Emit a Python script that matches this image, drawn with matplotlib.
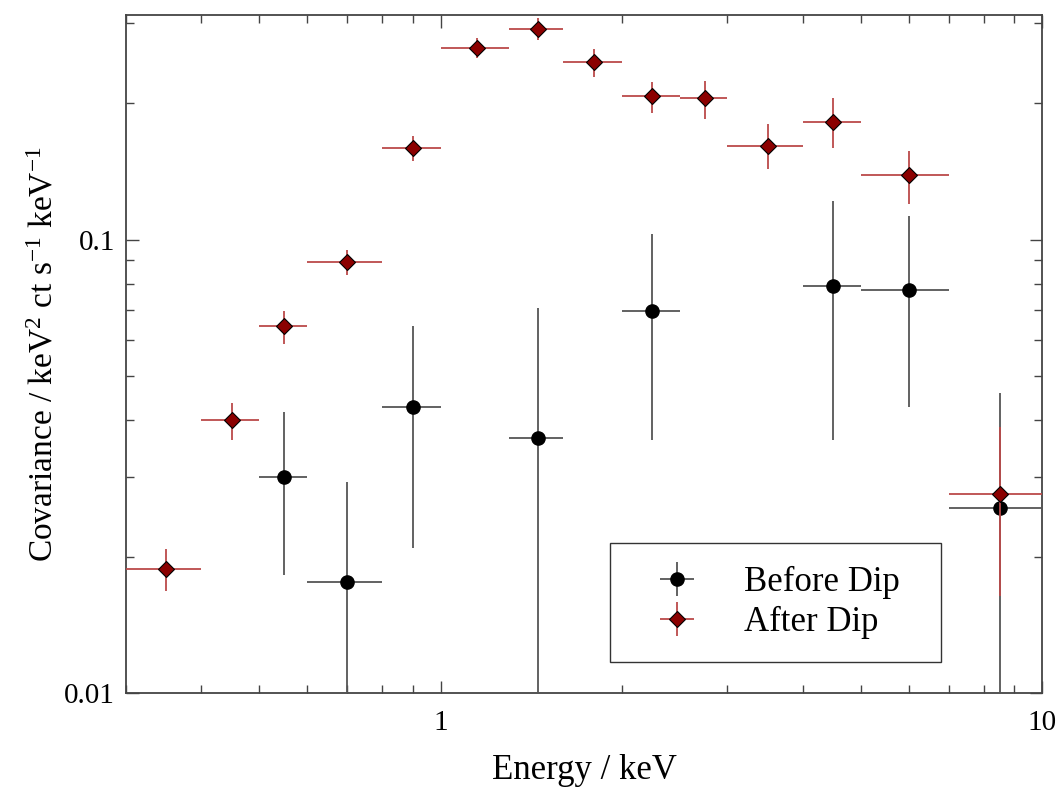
import numpy as np
import matplotlib
matplotlib.use("Agg")
import matplotlib.pyplot as plt
from matplotlib.ticker import FuncFormatter, LogLocator, NullFormatter

plt.rcParams['font.family'] = ['Liberation Serif', 'DejaVu Serif']
plt.rcParams['mathtext.fontset'] = 'custom'
plt.rcParams['mathtext.rm'] = 'Liberation Serif'
plt.rcParams['mathtext.it'] = 'Liberation Serif:italic'

# energy bins (keV)
after_lo = [0.3, 0.4, 0.5, 0.6, 0.8, 1.0, 1.3, 1.6, 2.0, 2.5, 3.0, 4.0, 5.0, 7.0]
after_hi = [0.4, 0.5, 0.6, 0.8, 1.0, 1.3, 1.6, 2.0, 2.5, 3.0, 4.0, 5.0, 7.0, 10.0]
after_y = [0.0188, 0.0400, 0.0644, 0.0891, 0.159, 0.265, 0.292, 0.246, 0.207, 0.205, 0.161, 0.182, 0.139, 0.0275]
after_ylo = [0.0168, 0.0361, 0.0590, 0.0834, 0.149, 0.252, 0.275, 0.228, 0.190, 0.185, 0.143, 0.159, 0.120, 0.0164]
after_yhi = [0.0208, 0.0436, 0.0695, 0.0947, 0.169, 0.279, 0.309, 0.264, 0.223, 0.224, 0.180, 0.205, 0.157, 0.0386]

before_lo = [0.5, 0.6, 0.8, 1.3, 2.0, 4.0, 5.0, 7.0]
before_hi = [0.6, 0.8, 1.0, 1.6, 2.5, 5.0, 7.0, 10.0]
before_y = [0.0300, 0.0176, 0.0427, 0.0365, 0.0695, 0.0789, 0.0773, 0.0256]
before_ylo = [0.0182, 0.005, 0.0209, 0.005, 0.0361, 0.0361, 0.0427, 0.005]
before_yhi = [0.0416, 0.0292, 0.0644, 0.0706, 0.1027, 0.122, 0.1126, 0.046]


def to_err(lo, hi, y, ylo, yhi):
    lo, hi, y = np.array(lo), np.array(hi), np.array(y)
    x = (lo + hi) / 2
    xerr = (hi - lo) / 2
    yerr = [y - np.array(ylo), np.array(yhi) - y]
    return x, xerr, yerr


fig = plt.figure(figsize=(10.61, 7.87), dpi=100)
ax = fig.add_axes([126 / 1061, 1 - 693 / 787, 916 / 1061, 678 / 787])

x, xerr, yerr = to_err(before_lo, before_hi, before_y, before_ylo, before_yhi)
ax.errorbar(x, before_y, xerr=xerr, yerr=yerr, fmt='o', color='black', ms=9.5,
            ecolor='#555555', elinewidth=1.3, capsize=0, label='Before Dip', zorder=3)

x, xerr, yerr = to_err(after_lo, after_hi, after_y, after_ylo, after_yhi)
ax.errorbar(x, after_y, xerr=xerr, yerr=yerr, fmt='D', mfc='#8b0000', mec='black',
            mew=0.8, ms=8, ecolor='#bb4a4a', elinewidth=1.3, capsize=0,
            label='After Dip', zorder=4)

ax.set_xscale('log')
ax.set_yscale('log')
ax.set_xlim(0.3, 10)
ax.set_ylim(0.01, 0.313)

fmt = FuncFormatter(lambda v, p: '%g' % v)
ax.xaxis.set_major_formatter(fmt)
ax.yaxis.set_major_formatter(fmt)
ax.xaxis.set_minor_formatter(NullFormatter())
ax.yaxis.set_minor_formatter(NullFormatter())
ax.xaxis.set_minor_locator(LogLocator(base=10, subs=np.arange(2, 10)))
ax.yaxis.set_minor_locator(LogLocator(base=10, subs=np.arange(2, 10)))

ax.tick_params(which='both', direction='in', top=True, right=True, color='#444444',
               width=1.0, labelsize=21)
ax.tick_params(axis='y', which='both', pad=8)
ax.tick_params(axis='x', which='both', pad=12)
ax.tick_params(which='major', length=9)
ax.tick_params(which='minor', length=6)
for s in ax.spines.values():
    s.set_color('#444444')
    s.set_linewidth(1.3)

ax.set_xlabel('Energy / keV', fontsize=25, labelpad=13)
ax.set_ylabel('Covariance / keV$^{2}$ ct s$^{-1}$ keV$^{-1}$', fontsize=24, labelpad=3)

leg = ax.legend(loc='upper left', bbox_to_anchor=(0.5284, 0.0, 0.3614, 0.2212),
                mode='expand', borderaxespad=0, fontsize=25, frameon=True,
                fancybox=False, handlelength=2.54, handletextpad=0.66,
                labelspacing=0.2, borderpad=0.66)
leg.get_frame().set_edgecolor('black')
leg.get_frame().set_linewidth(1.0)

fig.savefig('out.png', dpi=100)
